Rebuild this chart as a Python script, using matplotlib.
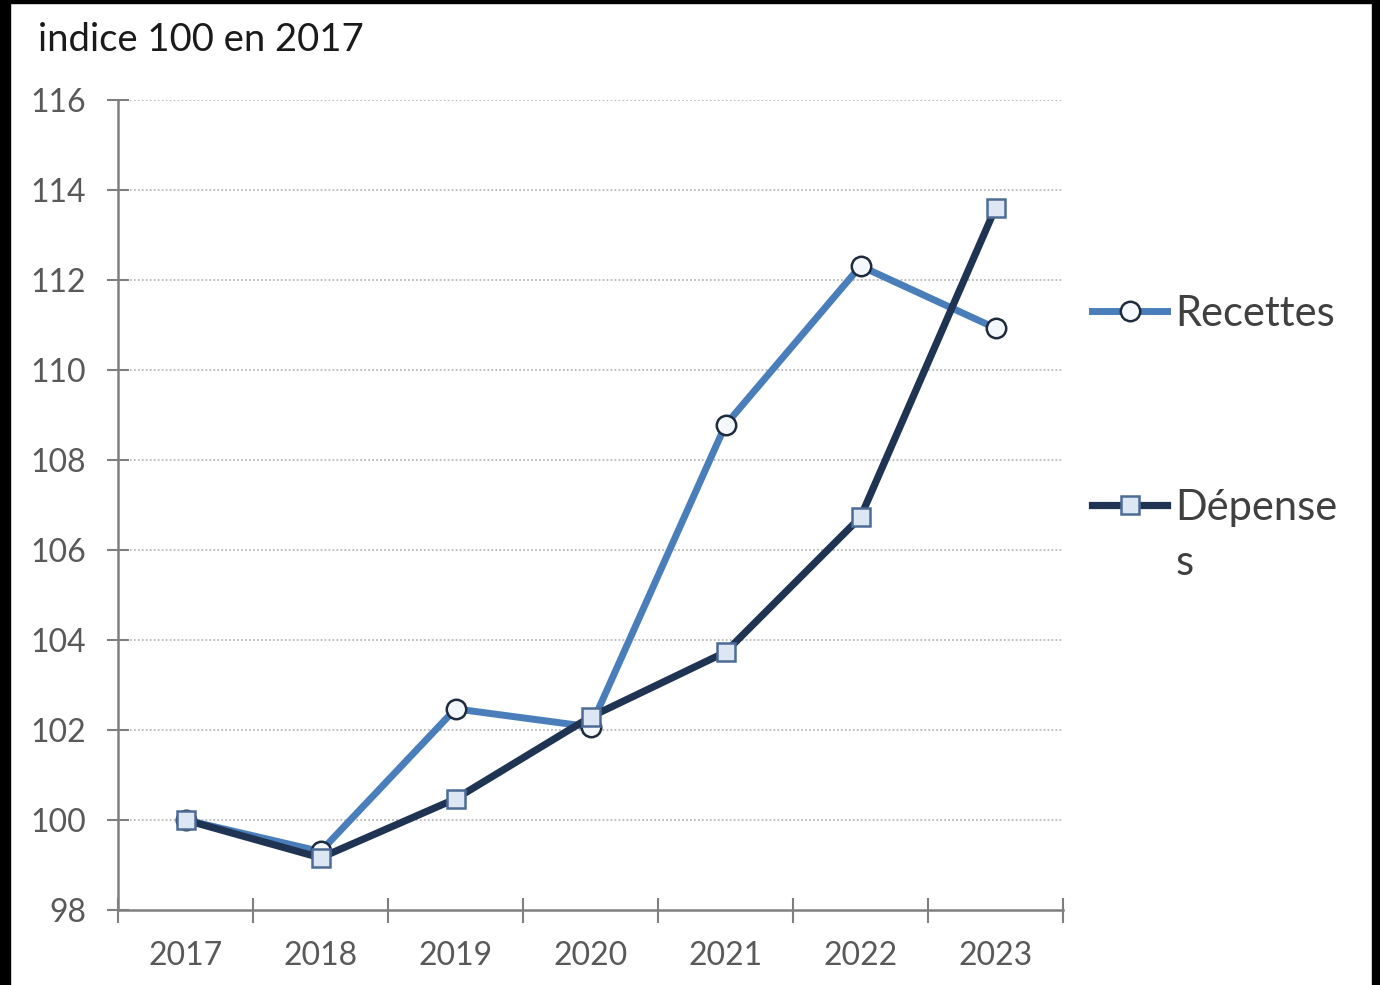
import matplotlib.pyplot as plt
from matplotlib.patches import Rectangle

plt.rcParams['font.family'] = ['Lato', 'DejaVu Sans']

annees = ["2017", "2018", "2019", "2020", "2021", "2022", "2023"]
recettes = [100.0, 99.3, 102.47, 102.07, 108.78, 112.31, 110.93]
depenses = [100.0, 99.16, 100.47, 102.29, 103.73, 106.73, 113.6]

x = list(range(len(annees)))

fig = plt.figure(figsize=(13.8, 9.85), dpi=100)
ax = fig.add_axes([118 / 1380, 1 - 910 / 985, 945 / 1380, 810 / 985])

ax.plot(x, recettes, color="#4a7ebb", lw=5, marker="o", ms=14,
        mfc="#f4f7fb", mec="#1e2b3c", mew=1.8, label="Recettes", zorder=3)
ax.plot(x, depenses, color="#1f3352", lw=5.2, marker="s", ms=13,
        mfc="#dde7f3", mec="#4d6b95", mew=1.8, label="Dépense", zorder=4)

ax.set_xlim(-0.5, 6.5)
ax.set_ylim(98, 116)
ax.set_yticks(range(98, 117, 2))
ax.set_xticks(x)
ax.set_xticklabels(annees)
ax.set_xticks([i + 0.5 for i in range(-1, 7)], minor=True)

for v in range(100, 117, 2):
    ax.axhline(v, color="#b8b8b8", lw=1.3, ls=(0, (1, 1.2)), zorder=1)

for s in ["top", "right"]:
    ax.spines[s].set_visible(False)
for s in ["left", "bottom"]:
    ax.spines[s].set_color("#7f7f7f")
    ax.spines[s].set_linewidth(1.8)

ax.tick_params(axis="y", direction="inout", length=16, width=1.5,
               color="#7f7f7f", labelsize=23, labelcolor="#595959", pad=15)
ax.tick_params(axis="x", which="major", length=0, labelsize=23,
               labelcolor="#595959", pad=22)
ax.tick_params(axis="x", which="minor", direction="inout", length=18,
               width=1.5, color="#7f7f7f")

fig.text(38 / 1380, 1 - 40 / 985, "indice 100 en 2017", fontsize=27.5,
         color="#1a1a1a", va="center", ha="left")

leg = fig.legend(loc="upper left", bbox_to_anchor=(1092 / 1380, 1 - 295 / 985),
                 frameon=False, fontsize=30, labelcolor="#404040",
                 handlelength=1.8, handletextpad=0.2, labelspacing=3.74,
                 borderpad=0, borderaxespad=0)
fig.text(1176 / 1380, 1 - 563 / 985, "s", fontsize=30, color="#404040",
         va="center", ha="left")

# cadre noir de la capture
fig.patches.append(Rectangle((0, 0), 10 / 1380, 1, transform=fig.transFigure,
                             color="black", zorder=10))
fig.patches.append(Rectangle((1372 / 1380, 0), 8 / 1380, 1, transform=fig.transFigure,
                             color="black", zorder=10))
fig.patches.append(Rectangle((0, 1 - 3 / 985), 1, 3 / 985, transform=fig.transFigure,
                             color="black", zorder=10))

fig.savefig("out.png", dpi=100)
